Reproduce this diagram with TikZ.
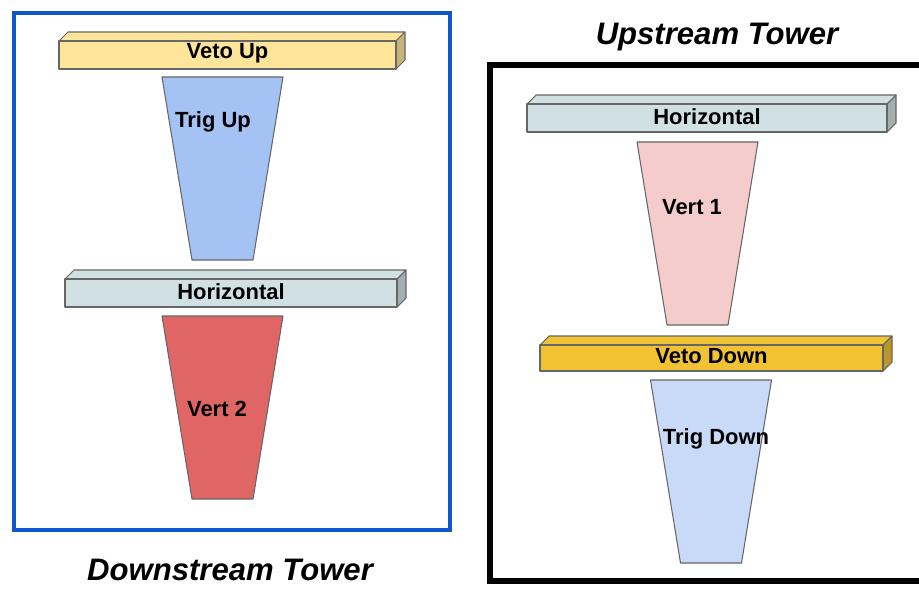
\documentclass[tikz,border=0pt]{standalone}
\usepackage{fontspec}
\setmainfont{Liberation Sans}
\definecolor{vetoup}{HTML}{FFE599}
\definecolor{vetodown}{HTML}{F1C232}
\definecolor{horiz}{HTML}{D0E0E3}
\definecolor{trigup}{HTML}{A4C2F4}
\definecolor{trigdown}{HTML}{C9DAF8}
\definecolor{vertone}{HTML}{F4CCCC}
\definecolor{verttwo}{HTML}{E06666}
\definecolor{frameblue}{HTML}{1155CC}
\definecolor{edge}{HTML}{666666}
\tikzset{
  part/.style={draw=edge, line width=0.6pt, line join=round},
  tag/.style={font=\fontsize{12.5}{14}\selectfont\bfseries, inner sep=0pt},
  title/.style={font=\fontsize{17.7}{20}\selectfont\bfseries\itshape, inner sep=0pt}
}
% slab: x1, y1, x2, y2, colour, name, text
\newcommand{\slab}[7]{%
  \draw[part, fill=#5] (#1,#2) -- ({#1+9},{#2-9}) -- ({#3+9},{#2-9}) -- (#3,#2) -- cycle;
  \draw[part, fill=#5!78!black] (#3,#2) -- ({#3+9},{#2-9}) -- ({#3+9},{#4-9}) -- (#3,#4) -- cycle;
  \draw[part, fill=#5] (#1,#2) rectangle (#3,#4);
  \node[tag] (#6) at ({(#1+#3)/2},{(#2+#4)/2-1.5}) {#7};
}
% cone: centre x, top y, colour
\newcommand{\cone}[3]{%
  \draw[part, fill=#3] ({#1-60.5},#2) -- ({#1+60.5},#2) -- ({#1+30.5},{#2+183}) -- ({#1-30.5},{#2+183}) -- cycle;
}
\begin{document}
\begin{tikzpicture}[x=0.02cm, y=-0.02cm]
  \useasboundingbox (0,0) rectangle (919,591);
  \clip (0,0) rectangle (919,591);

  % downstream tower
  \draw[frameblue, line width=2.8pt] (14,13) rectangle (450,530);
  \slab{59}{41}{396}{69}{vetoup}{vetoup}{Veto Up}
  \cone{222.5}{77}{trigup}
  \node[tag] (trigup) at (213,122) {Trig Up};
  \slab{65}{279}{397}{307}{horiz}{horizdown}{Horizontal}
  \cone{222.5}{316}{verttwo}
  \node[tag] (verttwo) at (217,409) {Vert 2};
  \node[title] (downtitle) at (230,570) {Downstream Tower};

  % upstream tower
  \node[title] (uptitle) at (717,37) {Upstream Tower};
  \draw[black, line width=3.4pt] (490,65) rectangle (940,581);
  \slab{527}{104}{887}{132}{horiz}{horizup}{Horizontal}
  \cone{697.5}{142}{vertone}
  \node[tag] (vertone) at (692,207) {Vert 1};
  \slab{540}{345}{883}{371}{vetodown}{vetodown}{Veto Down}
  \cone{711}{380}{trigdown}
  \node[tag] (trigdown) at (716,439) {Trig Down};
\end{tikzpicture}
\end{document}
